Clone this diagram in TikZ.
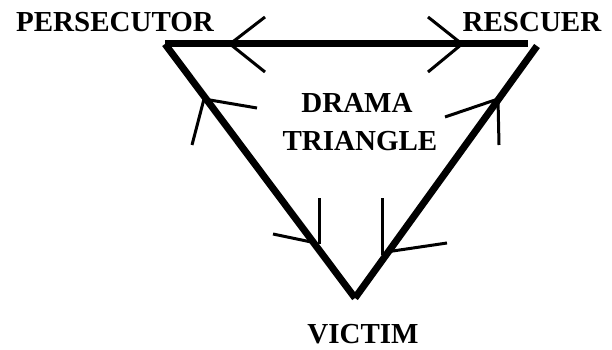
\documentclass[tikz,border=0pt]{standalone}
\usepackage{fontspec}
\setmainfont{Liberation Serif}
\begin{document}
\begin{tikzpicture}[x=1pt,y=-1pt,
  lbl/.style={font=\bfseries\fontsize{29}{31}\selectfont, inner sep=0pt, anchor=base},
  edge/.style={line width=7pt, line cap=butt, line join=miter},
  arm/.style={line width=3pt, line cap=butt, line join=miter}]
\useasboundingbox (0,0) rectangle (612,350);
% corners
\coordinate (pl) at (165,44);
\coordinate (pr) at (528,44);
\coordinate (rt) at (537,46);
\coordinate (v) at (355,298);
\draw[edge] (pl) -- (pr);
\draw[edge] (pl) -- (v);
\draw[edge] (rt) -- (v);
% arrows on top side
\coordinate (a1) at (230,44);
\draw[arm] (265,17) -- (a1) -- (265,72);
\coordinate (a2) at (462,44);
\draw[arm] (428,17) -- (a2) -- (428,72);
% arrows on left side
\coordinate (a3) at (204,99);
\draw[arm] (257,108) -- (a3) -- (192,145);
\coordinate (a4) at (316,243);
\draw[arm] (273,234) -- (a4);
\draw[arm] (319,198) -- (319,244);
% arrows on right side
\coordinate (a5) at (498,99);
\draw[arm] (445,117) -- (a5) -- (499,145);
\coordinate (a6) at (386,252);
\draw[arm] (447,243) -- (a6);
\draw[arm] (382,198) -- (382,255);
% labels
\node[lbl] (per) at (115,32) {PERSECUTOR};
\node[lbl] (res) at (532,32) {RESCUER};
\node[lbl] (dr) at (357,113) {DRAMA};
\node[lbl] (tri) at (360,150) {TRIANGLE};
\node[lbl, text depth=0pt] (vic) at (363,343) {VICTIM};
\end{tikzpicture}
\end{document}
